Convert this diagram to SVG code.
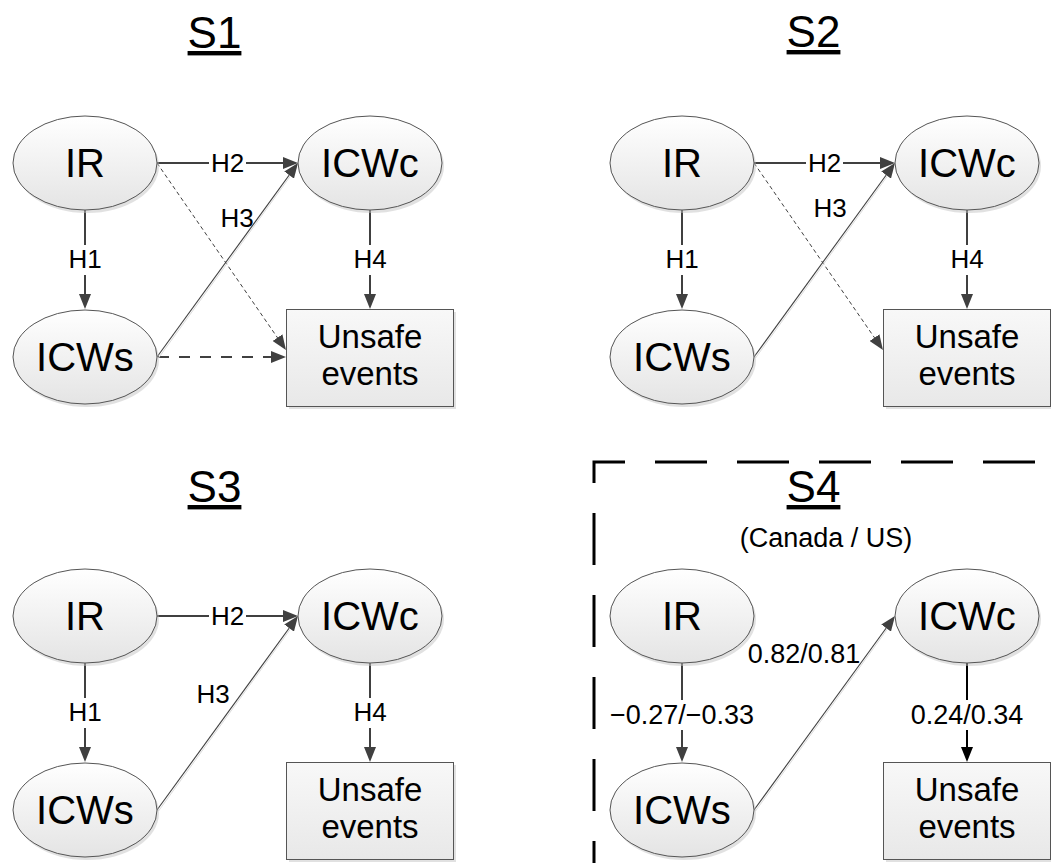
<svg xmlns="http://www.w3.org/2000/svg" width="1051" height="863" viewBox="0 0 1051 863">
<defs>
<linearGradient id="eg" x1="0" y1="0" x2="0" y2="1">
<stop offset="0" stop-color="#ffffff"/>
<stop offset="1" stop-color="#e4e4e4"/>
</linearGradient>
<linearGradient id="rg" x1="0" y1="0" x2="0" y2="1">
<stop offset="0" stop-color="#f8f8f8"/>
<stop offset="1" stop-color="#e8e8e8"/>
</linearGradient>
<marker id="ah" viewBox="0 0 15 12" refX="11" refY="6" markerWidth="15" markerHeight="12" orient="auto" markerUnits="userSpaceOnUse">
<path d="M0,0 L15,6 L0,12 z" fill="#404040"/>
</marker>
<marker id="ahb" viewBox="0 0 15 12" refX="11" refY="6" markerWidth="15" markerHeight="12" orient="auto" markerUnits="userSpaceOnUse">
<path d="M0,0 L15,6 L0,12 z" fill="#000000"/>
</marker>
</defs>
<style>
text{font-family:"Liberation Sans",Arial,sans-serif;fill:#000}
.title{font-size:44px;text-anchor:middle;text-decoration:underline}
.sub{font-size:27px;text-anchor:middle}
.node{font-size:40px;text-anchor:middle}
.box{font-size:33px;text-anchor:middle}
.lbl{font-size:26px;text-anchor:middle}
.num{font-size:27px;text-anchor:middle}
.ell{fill:url(#eg);stroke:#555;stroke-width:1}
.rct{fill:url(#rg);stroke:#555;stroke-width:1}
.shd{fill:#c4c4c4;opacity:.5}
.solid{stroke:#404040;stroke-width:2;fill:none;marker-end:url(#ah)}
.solidb{stroke:#000;stroke-width:2;fill:none;marker-end:url(#ahb)}
.thin{stroke:#404040;stroke-width:1.1;fill:none;marker-end:url(#ah)}
.hl{stroke:#dcdcdc;stroke-width:1;fill:none}
.dash{stroke:#404040;stroke-width:1;stroke-dasharray:4 3;fill:none;marker-end:url(#ah)}
.ldash{stroke:#404040;stroke-width:2;stroke-dasharray:11 10;fill:none;marker-end:url(#ah)}
.bg{fill:#fff}
.frame{stroke:#000;stroke-width:3;fill:none;stroke-dasharray:52 30;stroke-dashoffset:57}
</style>
<rect x="0" y="0" width="1051" height="863" fill="#fff"/>

<!-- titles -->
<g id="titles">
<text class="title" x="214.5" y="48">S1</text>
<text class="title" x="813.5" y="47">S2</text>
<text class="title" x="214.5" y="502">S3</text>
<text class="title" x="813.5" y="502">S4</text>
<text class="sub" x="826" y="547">(Canada / US)</text>
</g>

<!-- S4 dashed frame -->
<path id="s4-frame" class="frame" d="M594,1000 V462 H1100"/>

<!-- connectors -->
<g id="connectors">
<!-- S1 -->
<line class="solid" x1="85" y1="210" x2="85" y2="305"/>
<line class="solid" x1="157" y1="163" x2="294" y2="163"/>
<line class="solid" x1="370" y1="210" x2="370" y2="305"/>
<line class="dash" x1="157" y1="163" x2="283.7" y2="346.7"/>
<line class="ldash" x1="158" y1="357" x2="282" y2="357"/>
<line class="hl" x1="158.5" y1="358" x2="297" y2="167"/>
<line class="thin" x1="157" y1="357" x2="295.6" y2="166.2"/>
<!-- S2 -->
<line class="solid" x1="682" y1="210" x2="682" y2="305"/>
<line class="solid" x1="754" y1="163" x2="891" y2="163"/>
<line class="solid" x1="967" y1="210" x2="967" y2="305"/>
<line class="dash" x1="754" y1="163" x2="880.7" y2="346.7"/>
<line class="hl" x1="755.5" y1="358" x2="894" y2="167"/>
<line class="thin" x1="754" y1="357" x2="892.6" y2="166.2"/>
<!-- S3 -->
<line class="solid" x1="85" y1="663" x2="85" y2="758"/>
<line class="solid" x1="157" y1="616" x2="294" y2="616"/>
<line class="solid" x1="370" y1="663" x2="370" y2="758"/>
<line class="hl" x1="158.5" y1="811" x2="297" y2="620"/>
<line class="thin" x1="157" y1="810" x2="295.6" y2="619.2"/>
<!-- S4 -->
<line class="solid" x1="682" y1="663" x2="682" y2="758"/>
<line class="solidb" x1="967" y1="663" x2="967" y2="758"/>
<line class="hl" x1="755.5" y1="811" x2="894" y2="620"/>
<line class="thin" x1="754" y1="810" x2="892.6" y2="619.2"/>

<!-- labels -->
<rect class="bg" x="209" y="150" width="37" height="26"/>
<text class="lbl" x="227.5" y="172">H2</text>
<rect class="bg" x="67" y="245" width="36" height="30"/>
<text class="lbl" x="85" y="268">H1</text>
<rect class="bg" x="352" y="245" width="36" height="30"/>
<text class="lbl" x="370" y="268">H4</text>
<text class="lbl" x="237" y="227">H3</text>

<rect class="bg" x="806" y="150" width="37" height="26"/>
<text class="lbl" x="824.5" y="172">H2</text>
<rect class="bg" x="664" y="245" width="36" height="30"/>
<text class="lbl" x="682" y="268">H1</text>
<rect class="bg" x="949" y="245" width="36" height="30"/>
<text class="lbl" x="967" y="268">H4</text>
<text class="lbl" x="830" y="217">H3</text>

<rect class="bg" x="209" y="603" width="37" height="26"/>
<text class="lbl" x="227.5" y="625">H2</text>
<rect class="bg" x="67" y="698" width="36" height="30"/>
<text class="lbl" x="85" y="721">H1</text>
<rect class="bg" x="352" y="698" width="36" height="30"/>
<text class="lbl" x="370" y="721">H4</text>
<text class="lbl" x="213" y="703">H3</text>

<rect class="bg" x="609" y="700" width="146" height="30"/>
<text class="num" x="682" y="724">−0.27/−0.33</text>
<rect class="bg" x="909" y="700" width="116" height="30"/>
<text class="num" x="967" y="724">0.24/0.34</text>
<text class="num" x="804" y="663">0.82/0.81</text>
</g>

<!-- S1 nodes -->
<g id="s1-ir"><ellipse class="shd" cx="87" cy="166" rx="72" ry="47"/><ellipse class="ell" cx="85" cy="163" rx="72" ry="47"/><text class="node" x="85" y="177">IR</text></g>
<g id="s1-icwc"><ellipse class="shd" cx="372" cy="166" rx="72" ry="47"/><ellipse class="ell" cx="370" cy="163" rx="72" ry="47"/><text class="node" x="370" y="177">ICWc</text></g>
<g id="s1-icws"><ellipse class="shd" cx="87" cy="360" rx="72" ry="47"/><ellipse class="ell" cx="85" cy="357" rx="72" ry="47"/><text class="node" x="85" y="371">ICWs</text></g>
<g id="s1-unsafe"><rect class="shd" x="289" y="312" width="167" height="97"/><rect class="rct" x="286.5" y="309.5" width="167" height="97"/><text class="box" x="370" y="348">Unsafe</text><text class="box" x="370" y="385">events</text></g>

<!-- S2 nodes -->
<g id="s2-ir"><ellipse class="shd" cx="684" cy="166" rx="72" ry="47"/><ellipse class="ell" cx="682" cy="163" rx="72" ry="47"/><text class="node" x="682" y="177">IR</text></g>
<g id="s2-icwc"><ellipse class="shd" cx="969" cy="166" rx="72" ry="47"/><ellipse class="ell" cx="967" cy="163" rx="72" ry="47"/><text class="node" x="967" y="177">ICWc</text></g>
<g id="s2-icws"><ellipse class="shd" cx="684" cy="360" rx="72" ry="47"/><ellipse class="ell" cx="682" cy="357" rx="72" ry="47"/><text class="node" x="682" y="371">ICWs</text></g>
<g id="s2-unsafe"><rect class="shd" x="886" y="312" width="167" height="97"/><rect class="rct" x="883.5" y="309.5" width="167" height="97"/><text class="box" x="967" y="348">Unsafe</text><text class="box" x="967" y="385">events</text></g>

<!-- S3 nodes -->
<g id="s3-ir"><ellipse class="shd" cx="87" cy="619" rx="72" ry="47"/><ellipse class="ell" cx="85" cy="616" rx="72" ry="47"/><text class="node" x="85" y="630">IR</text></g>
<g id="s3-icwc"><ellipse class="shd" cx="372" cy="619" rx="72" ry="47"/><ellipse class="ell" cx="370" cy="616" rx="72" ry="47"/><text class="node" x="370" y="630">ICWc</text></g>
<g id="s3-icws"><ellipse class="shd" cx="87" cy="813" rx="72" ry="47"/><ellipse class="ell" cx="85" cy="810" rx="72" ry="47"/><text class="node" x="85" y="824">ICWs</text></g>
<g id="s3-unsafe"><rect class="shd" x="289" y="765" width="167" height="97"/><rect class="rct" x="286.5" y="762.5" width="167" height="97"/><text class="box" x="370" y="801">Unsafe</text><text class="box" x="370" y="838">events</text></g>

<!-- S4 nodes -->
<g id="s4-ir"><ellipse class="shd" cx="684" cy="619" rx="72" ry="47"/><ellipse class="ell" cx="682" cy="616" rx="72" ry="47"/><text class="node" x="682" y="630">IR</text></g>
<g id="s4-icwc"><ellipse class="shd" cx="969" cy="619" rx="72" ry="47"/><ellipse class="ell" cx="967" cy="616" rx="72" ry="47"/><text class="node" x="967" y="630">ICWc</text></g>
<g id="s4-icws"><ellipse class="shd" cx="684" cy="813" rx="72" ry="47"/><ellipse class="ell" cx="682" cy="810" rx="72" ry="47"/><text class="node" x="682" y="824">ICWs</text></g>
<g id="s4-unsafe"><rect class="shd" x="886" y="765" width="167" height="97"/><rect class="rct" x="883.5" y="762.5" width="167" height="97"/><text class="box" x="967" y="801">Unsafe</text><text class="box" x="967" y="838">events</text></g>
</svg>
